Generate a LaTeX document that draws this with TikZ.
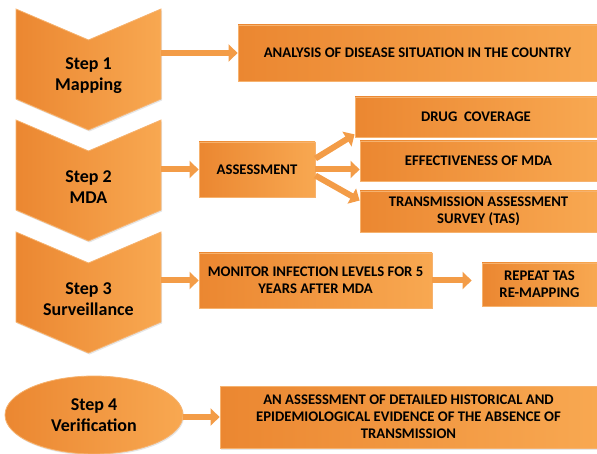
\documentclass[tikz,border=0pt]{standalone}
\usepackage{fontspec}
\setmainfont{Carlito}
\usetikzlibrary{shapes.geometric}
\usetikzlibrary{arrows.meta}
\usetikzlibrary{shadows}
\usetikzlibrary{calc}

\definecolor{ordark}{HTML}{EB8731}
\definecolor{orlight}{HTML}{F8A851}
\definecolor{orrim}{HTML}{F6B26E}
\definecolor{orarrow}{HTML}{F39C47}

\begin{document}
\begin{tikzpicture}[x=1pt, y=-1pt,
  orange fill/.style={left color=ordark, right color=orlight, draw=orrim, line width=0.8pt,
    drop shadow={opacity=0.2, shadow xshift=1pt, shadow yshift=-1.5pt}},
  box/.style={orange fill, rectangle, inner sep=2pt, align=center,
    font=\fontsize{14.7}{17}\selectfont\bfseries},
  steptext/.style={align=center, font=\fontsize{18}{21}\selectfont\bfseries},
  flow/.style={draw=orarrow, line width=6pt, -{Triangle[length=9pt, width=17pt]}}]
  \useasboundingbox (0,0) rectangle (597,454);

  \foreach \t/\name/\txt in {9/step1/{Step 1\\Mapping}, 120/step2/{Step 2\\MDA}, 232/step3/{Step 3\\Surveillance}} {
    \path [orange fill] (16,\t) -- (88.5,\t+31) -- (161,\t) -- (161,\t+90) -- (88.5,\t+121) -- (16,\t+90) -- cycle;
    \node [steptext] (\name) at (88.5,\t+67) {\txt};
    \coordinate (\name-r) at (161,\t+48);
  }
  \node [orange fill, ellipse, minimum width=178, minimum height=78, steptext] (step4) at (94,415) {Step 4\\Verification};

  \node [box, minimum width=359, minimum height=56] (analysis) at (417.5,53) {ANALYSIS OF DISEASE SITUATION IN THE COUNTRY};
  \node [box, minimum width=116, minimum height=55] (assess) at (257,169.5) {ASSESSMENT};
  \node [box, minimum width=242, minimum height=40] (drug) at (476,117) {DRUG\ \ COVERAGE};
  \node [box, minimum width=237, minimum height=40] (effect) at (478.5,161) {EFFECTIVENESS OF MDA};
  \node [box, minimum width=237, minimum height=41] (tas) at (478.5,211.5) {TRANSMISSION ASSESSMENT\\SURVEY (TAS)};
  \node [box, minimum width=233, minimum height=55] (monitor) at (315.5,280.5) {MONITOR INFECTION LEVELS FOR 5\\YEARS AFTER MDA};
  \node [box, minimum width=115, minimum height=43] (repeat) at (539.5,284.5) {REPEAT TAS\\RE-MAPPING};
  \node [box, minimum width=377, minimum height=62] (verify) at (408.5,417) {AN ASSESSMENT OF DETAILED HISTORICAL AND\\EPIDEMIOLOGICAL EVIDENCE OF THE ABSENCE OF\\TRANSMISSION};

  \draw [flow] (step1-r |- analysis.west) -- (analysis.west);
  \draw [flow] (step2-r |- assess.west) -- (assess.west);
  \draw [flow] (step3-r |- monitor.west) -- (monitor.west);
  \draw [flow] (step4.east |- verify.west) -- (verify.west);
  \draw [flow] ([yshift=11pt]assess.east) -- ([yshift=3pt]drug.south west);
  \draw [flow] (assess.east) -- (assess.east -| effect.west);
  \draw [flow] ([yshift=-6pt]assess.east) -- ([yshift=11pt]tas.west);
  \draw [flow, shorten >=10pt] (monitor.east) -- (monitor.east -| repeat.west);
\end{tikzpicture}
\end{document}
